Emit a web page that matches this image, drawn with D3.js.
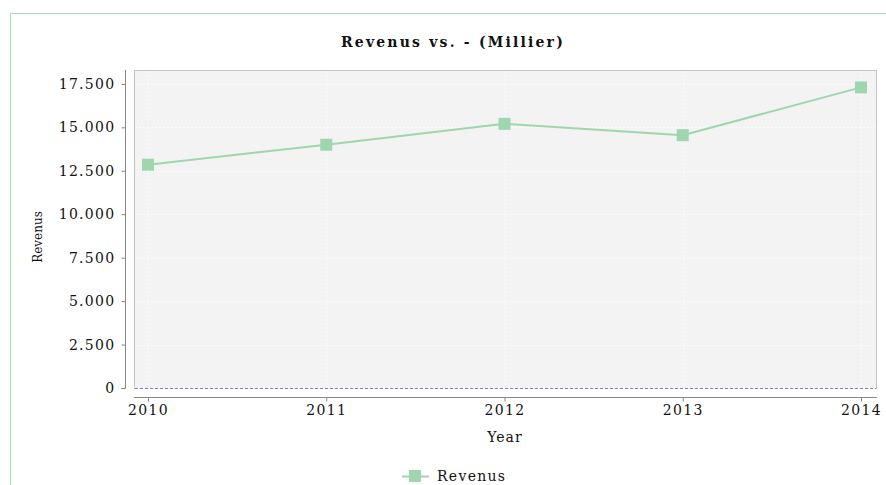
<!DOCTYPE html>
<html>
<head>
<meta charset="utf-8">
<script src="https://cdn.jsdelivr.net/npm/d3@7"></script>
<style>
  body { margin: 0; background: #fff; }
  svg text { font-family: "DejaVu Serif", serif; fill: #111; }
</style>
</head>
<body>
<div id="chart"></div>
<script>
// Data
const years = ['2010', '2011', '2012', '2013', '2014'];
const revenus = [12850, 14000, 15200, 14550, 17300];
const yTicks = [0, 2500, 5000, 7500, 10000, 12500, 15000, 17500];

const width = 886, height = 485;
const plot = { left: 134, right: 876, top: 70, bottom: 388 };
const seriesColor = '#9fd6ae';

const svg = d3.select('#chart').append('svg')
  .attr('width', width)
  .attr('height', height);

// outer frame
svg.append('rect')
  .attr('x', 10.5).attr('y', 13.5)
  .attr('width', 900).attr('height', 500)
  .attr('fill', 'none')
  .attr('stroke', '#a3dbb2');

const x = d3.scalePoint()
  .domain(years)
  .range([plot.left + 14, plot.right - 15]);

const y = d3.scaleLinear()
  .domain([0, 18300])
  .range([plot.bottom, plot.top]);

const fmt = v => d3.format(',')(v).replace(/,/g, '.');

// plot background
svg.append('rect')
  .attr('x', plot.left + 0.5).attr('y', plot.top + 0.5)
  .attr('width', plot.right - plot.left).attr('height', plot.bottom - plot.top)
  .attr('fill', '#f3f3f3')
  .attr('stroke', '#c4c4c4');

// grid lines (faint)
svg.append('g').selectAll('line')
  .data(yTicks.slice(1))
  .join('line')
  .attr('x1', plot.left + 1).attr('x2', plot.right)
  .attr('y1', d => Math.round(y(d)) + 0.5).attr('y2', d => Math.round(y(d)) + 0.5)
  .attr('stroke', '#fbfbfb')
  .attr('stroke-dasharray', '2,2');

svg.append('g').selectAll('line')
  .data(years)
  .join('line')
  .attr('x1', d => Math.round(x(d)) + 0.5).attr('x2', d => Math.round(x(d)) + 0.5)
  .attr('y1', plot.top + 1).attr('y2', plot.bottom)
  .attr('stroke', '#fbfbfb')
  .attr('stroke-dasharray', '2,2');

// zero line (drawn over the plot's bottom edge)
svg.append('line')
  .attr('x1', plot.left + 1).attr('x2', plot.right)
  .attr('y1', y(0) + 0.5).attr('y2', y(0) + 0.5)
  .attr('stroke', '#f3f3f3');
svg.append('line')
  .attr('x1', plot.left + 1).attr('x2', plot.right)
  .attr('y1', y(0) + 0.5).attr('y2', y(0) + 0.5)
  .attr('stroke', '#8080e0')
  .attr('stroke-dasharray', '3,2');

// y axis
const yAxis = svg.append('g')
  .attr('transform', `translate(125.5,0)`)
  .call(d3.axisLeft(y).tickValues(yTicks).tickFormat(fmt).tickSize(4).tickPadding(6));
yAxis.select('.domain').attr('d', `M0,${plot.top}V${plot.bottom + 0.5}H-4`).attr('stroke', '#888');
yAxis.selectAll('.tick line').attr('stroke', '#888');
yAxis.selectAll('text')
  .attr('font-size', 14)
  .attr('letter-spacing', '1.3px')
  .attr('font-family', '"DejaVu Serif", serif')
  .attr('fill', '#111');

// x axis
const xAxis = svg.append('g')
  .attr('transform', `translate(0,397.5)`)
  .call(d3.axisBottom(x).tickSize(4).tickPadding(4));
xAxis.select('.domain').attr('d', `M${plot.left},0H${plot.right + 1}`).attr('stroke', '#888');
xAxis.selectAll('.tick line').attr('stroke', '#888');
xAxis.selectAll('text')
  .attr('font-size', 14)
  .attr('letter-spacing', '1.3px')
  .attr('font-family', '"DejaVu Serif", serif')
  .attr('fill', '#111');

// series line and markers
const line = d3.line()
  .x((d, i) => x(years[i]))
  .y(d => y(d));

svg.append('path')
  .datum(revenus)
  .attr('d', line)
  .attr('fill', 'none')
  .attr('stroke', seriesColor)
  .attr('stroke-width', 2);

svg.append('g').selectAll('rect')
  .data(revenus)
  .join('rect')
  .attr('x', (d, i) => x(years[i]) - 6)
  .attr('y', d => y(d) - 6)
  .attr('width', 12).attr('height', 12)
  .attr('fill', seriesColor);

// title
svg.append('text')
  .attr('x', 453).attr('y', 47)
  .attr('text-anchor', 'middle')
  .attr('font-size', 14)
  .attr('font-weight', 'bold')
  .attr('letter-spacing', '2.2px')
  .text('Revenus vs. - (Millier)');

// axis titles
svg.append('text')
  .attr('transform', `translate(42,237) rotate(-90)`)
  .attr('text-anchor', 'middle')
  .attr('font-size', 12)
  .text('Revenus');

svg.append('text')
  .attr('x', 505).attr('y', 442)
  .attr('text-anchor', 'middle')
  .attr('font-size', 14)
  .attr('letter-spacing', '1px')
  .text('Year');

// legend
const lg = svg.append('g').attr('transform', 'translate(402,476)');
lg.append('line')
  .attr('x1', 0).attr('x2', 27).attr('y1', 0.5).attr('y2', 0.5)
  .attr('stroke', seriesColor).attr('stroke-width', 2);
lg.append('rect')
  .attr('x', 7).attr('y', -6).attr('width', 12).attr('height', 12)
  .attr('fill', seriesColor);
lg.append('text')
  .attr('x', 35).attr('y', 5)
  .attr('font-size', 14)
  .attr('letter-spacing', '1.3px')
  .text('Revenus');
</script>
</body>
</html>
